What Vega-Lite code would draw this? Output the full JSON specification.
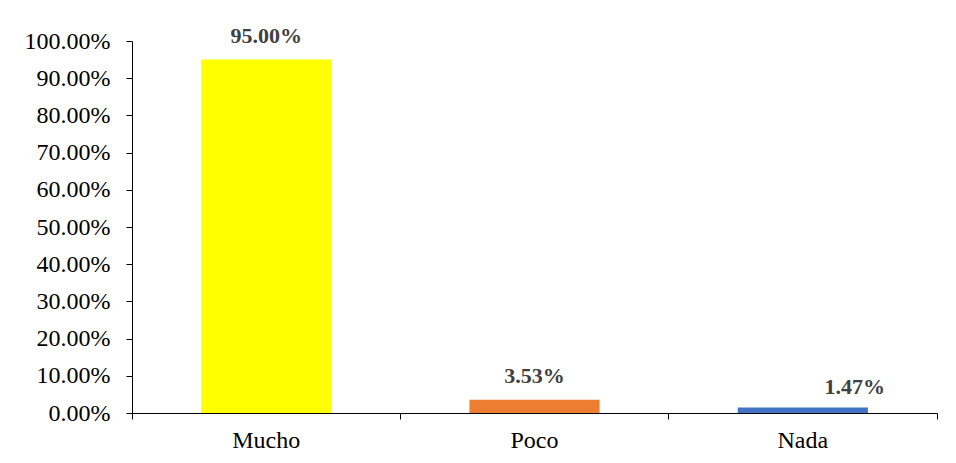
{
  "$schema": "https://vega.github.io/schema/vega-lite/v6.json",
  "autosize": "none",
  "width": 805,
  "height": 372,
  "padding": {"left": 132, "top": 41, "right": 19, "bottom": 50},
  "background": "white",
  "config": {"view": {"stroke": null}, "font": "Times New Roman, Liberation Serif, serif"},
  "data": {"values": [
    {"categoria": "Mucho", "porcentaje": 0.95},
    {"categoria": "Poco", "porcentaje": 0.0353},
    {"categoria": "Nada", "porcentaje": 0.0147}
  ]},
  "encoding": {
    "x": {"field": "categoria", "type": "nominal", "sort": ["Mucho", "Poco", "Nada"],
      "scale": {"paddingInner": 0, "paddingOuter": 0},
      "axis": {"title": null, "labelAngle": 0, "bandPosition": 1, "tickExtra": true,
        "domainColor": "black", "tickColor": "black", "tickSize": 6,
        "labelFont": "Times New Roman, Liberation Serif, serif", "labelFontSize": 24, "labelFontWeight": "normal", "labelColor": "black",
        "labelPadding": 9, "labelBaseline": "top"}},
    "y": {"field": "porcentaje", "type": "quantitative",
      "scale": {"domain": [0, 1]},
      "axis": {"title": null, "format": ".2%", "values": [0,0.1,0.2,0.3,0.4,0.5,0.6,0.7,0.8,0.9,1],
        "grid": false, "domainColor": "black", "tickColor": "black", "tickSize": 6,
        "labelFont": "Times New Roman, Liberation Serif, serif", "labelFontSize": 24, "labelFontWeight": "normal", "labelColor": "black", "labelPadding": 16}}
  },
  "layer": [
    {"mark": {"type": "bar", "width": {"band": 0.485}},
      "encoding": {"color": {"field": "categoria", "type": "nominal", "legend": null,
        "scale": {"domain": ["Mucho", "Poco", "Nada"], "range": ["#FFFF00", "#ED7D31", "#4472C4"]}}}},
    {"transform": [{"filter": "datum.categoria != 'Nada'"}],
      "mark": {"type": "text", "dy": -24, "font": "Times New Roman, Liberation Serif, serif", "fontSize": 22, "fontWeight": "bold", "color": "#404040"},
      "encoding": {"text": {"field": "porcentaje", "type": "quantitative", "format": ".2%"}}},
    {"transform": [{"filter": "datum.categoria == 'Nada'"}],
      "mark": {"type": "text", "dy": -21, "dx": 52, "font": "Times New Roman, Liberation Serif, serif", "fontSize": 22, "fontWeight": "bold", "color": "#404040"},
      "encoding": {"text": {"field": "porcentaje", "type": "quantitative", "format": ".2%"}}}
  ]
}
